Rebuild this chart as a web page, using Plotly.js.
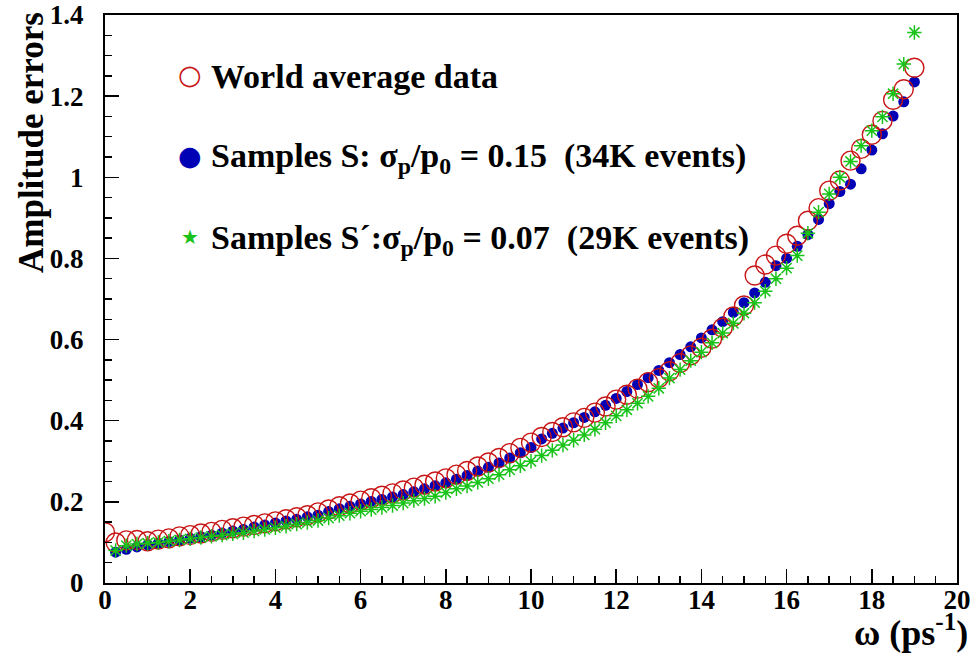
<!DOCTYPE html>
<html>
<head>
<meta charset="utf-8">
<script src="https://cdn.plot.ly/plotly-3.0.1.min.js"></script>
<style>html,body{margin:0;padding:0;background:#fff;}#chart{width:974px;height:653px;}</style>
</head>
<body>
<div id="chart"></div>
<script>
// omega (ps^-1) grid of World average data
const omegaWA = [0,0.25,0.5,0.75,1,1.25,1.5,1.75,2,2.25,2.5,2.75,3,3.25,3.5,3.75,4,4.25,4.5,4.75,5,5.25,5.5,5.75,6,6.25,6.5,6.75,7,7.25,7.5,7.75,8,8.25,8.5,8.75,9,9.25,9.5,9.75,10,10.25,10.5,10.75,11,11.25,11.5,11.75,12,12.25,12.5,12.75,13,13.25,13.5,13.75,14,14.25,14.5,14.75,15,15.25,15.5,15.75,16,16.25,16.5,16.75,17,17.25,17.5,17.75,18,18.25,18.5,18.75,19];
const errWA = [0.125,0.100,0.105,0.106,0.103,0.107,0.110,0.115,0.118,0.122,0.126,0.131,0.135,0.139,0.143,0.147,0.152,0.157,0.162,0.167,0.174,0.181,0.189,0.196,0.203,0.209,0.215,0.221,0.228,0.235,0.242,0.250,0.258,0.267,0.276,0.287,0.297,0.308,0.320,0.333,0.346,0.360,0.372,0.384,0.396,0.407,0.420,0.435,0.452,0.464,0.479,0.495,0.505,0.522,0.542,0.561,0.580,0.602,0.629,0.657,0.684,0.758,0.785,0.807,0.836,0.856,0.893,0.924,0.967,0.992,1.041,1.070,1.105,1.139,1.191,1.217,1.270];

// Samples S (sigma_p/p0 = 0.15)
const omegaS = [0.25,0.5,0.75,1,1.25,1.5,1.75,2,2.25,2.5,2.75,3,3.25,3.5,3.75,4,4.25,4.5,4.75,5,5.25,5.5,5.75,6,6.25,6.5,6.75,7,7.25,7.5,7.75,8,8.25,8.5,8.75,9,9.25,9.5,9.75,10,10.25,10.5,10.75,11,11.25,11.5,11.75,12,12.25,12.5,12.75,13,13.25,13.5,13.75,14,14.25,14.5,14.75,15,15.25,15.5,15.75,16,16.25,16.5,16.75,17,17.25,17.5,17.75,18,18.25,18.5,18.75,19];
const errS = [0.076,0.083,0.089,0.094,0.098,0.102,0.106,0.110,0.114,0.118,0.123,0.128,0.132,0.138,0.143,0.148,0.153,0.157,0.163,0.167,0.176,0.183,0.189,0.195,0.201,0.206,0.212,0.218,0.225,0.232,0.240,0.247,0.256,0.265,0.276,0.285,0.296,0.308,0.321,0.334,0.355,0.369,0.382,0.395,0.408,0.422,0.438,0.455,0.472,0.489,0.506,0.524,0.543,0.563,0.582,0.604,0.624,0.644,0.667,0.691,0.715,0.741,0.782,0.800,0.830,0.859,0.896,0.935,0.965,0.983,1.021,1.067,1.107,1.151,1.186,1.235];

// Samples S' (sigma_p/p0 = 0.07)
const omegaSp = [0.25,0.5,0.75,1,1.25,1.5,1.75,2,2.25,2.5,2.75,3,3.25,3.5,3.75,4,4.25,4.5,4.75,5,5.25,5.5,5.75,6,6.25,6.5,6.75,7,7.25,7.5,7.75,8,8.25,8.5,8.75,9,9.25,9.5,9.75,10,10.25,10.5,10.75,11,11.25,11.5,11.75,12,12.25,12.5,12.75,13,13.25,13.5,13.75,14,14.25,14.5,14.75,15,15.25,15.5,15.75,16,16.25,16.5,16.75,17,17.25,17.5,17.75,18,18.25,18.5,18.75,19];
const errSp = [0.080,0.092,0.096,0.098,0.100,0.103,0.106,0.109,0.112,0.115,0.118,0.121,0.124,0.128,0.132,0.136,0.140,0.145,0.149,0.154,0.160,0.166,0.172,0.177,0.181,0.186,0.191,0.197,0.203,0.208,0.214,0.223,0.232,0.239,0.248,0.257,0.267,0.279,0.289,0.300,0.314,0.327,0.340,0.352,0.365,0.379,0.395,0.412,0.427,0.443,0.460,0.480,0.505,0.526,0.548,0.569,0.592,0.616,0.640,0.665,0.691,0.719,0.750,0.776,0.807,0.862,0.914,0.959,1.000,1.039,1.078,1.115,1.149,1.206,1.279,1.357];

const legendLabels = [
  "World average data",
  "Samples S: \u03C3<sub>p</sub>/p<sub>0</sub> = 0.15 \u00A0(34K events)",
  "Samples S\u00B4:\u03C3<sub>p</sub>/p<sub>0</sub> = 0.07 \u00A0(29K events)"
];
const xTitle = "\u03C9 (ps<sup>-1</sup>)";
const yTitle = "Amplitude errors";

const RED = "#c81414", BLUE = "#0000b4", GREEN = "#19c319";
const serif = "Liberation Serif";

const traces = [
  {x: omegaS, y: errS, type: "scatter", mode: "markers", name: legendLabels[1],
   marker: {symbol: "circle", size: 11, color: BLUE, line: {width: 0}}},
  {x: omegaWA, y: errWA, type: "scatter", mode: "markers", name: legendLabels[0],
   marker: {symbol: "circle-open", size: 19, color: RED, line: {width: 1.4, color: RED}}},
  {x: omegaSp, y: errSp, type: "scatter", mode: "markers", name: legendLabels[2],
   marker: {symbol: "asterisk-open", size: 12, color: GREEN, line: {width: 1.5, color: GREEN}}}
];

function px(x){ return (x - 105) / 852; }
function py(y){ return (583 - y) / 568; }

const legendY = [77, 158, 240];
const legendSym = [
  {t: "\u25CB", c: RED, s: 27},
  {t: "\u25CF", c: BLUE, s: 27},
  {t: "\u2605", c: GREEN, s: 20}
];
const annotations = [];
for (let i = 0; i < 3; i++) {
  annotations.push({xref: "paper", yref: "paper", x: px(190), y: py(legendY[i] - 3), xanchor: "center", yanchor: "middle",
    text: legendSym[i].t, showarrow: false, font: {family: "DejaVu Sans", size: legendSym[i].s, color: legendSym[i].c}});
  annotations.push({xref: "paper", yref: "paper", x: px(209), y: py(legendY[i]), xanchor: "left", yanchor: "middle",
    text: "<b>" + legendLabels[i] + "</b>", showarrow: false, font: {family: serif, size: 34, color: "#000"}});
}
annotations.push({xref: "paper", yref: "paper", x: px(10), y: py(10), xanchor: "left", yanchor: "top", textangle: -90,
  text: "<b>" + yTitle + "</b>", showarrow: false, font: {family: serif, size: 35, color: "#000"}});
annotations.push({xref: "paper", yref: "paper", x: px(970), y: py(630), xanchor: "right", yanchor: "middle",
  text: "<b>" + xTitle + "</b>", showarrow: false, font: {family: serif, size: 36, color: "#000"}});

const axisCommon = {
  showgrid: false, zeroline: false, showline: true, linecolor: "#000", linewidth: 2, mirror: true,
  ticks: "inside", tickcolor: "#000", tickwidth: 1.5, ticklen: 14,
  tickfont: {family: serif, size: 27, color: "#000", weight: "bold"}
};

const layout = {
  width: 974, height: 653,
  margin: {l: 105, r: 17, t: 15, b: 70},
  paper_bgcolor: "#fff", plot_bgcolor: "#fff",
  showlegend: false,
  xaxis: Object.assign({}, axisCommon, {range: [0, 20], dtick: 2, tick0: 0, ticklabelstandoff: -8,
    minor: {dtick: 0.5, ticks: "inside", ticklen: 7, tickwidth: 1.5, tickcolor: "#000", showgrid: false}}),
  yaxis: Object.assign({}, axisCommon, {range: [0, 1.4], dtick: 0.2, tick0: 0, ticklabelstandoff: 14,
    minor: {dtick: 0.05, ticks: "inside", ticklen: 7, tickwidth: 1.5, tickcolor: "#000", showgrid: false}}),
  annotations: annotations
};

Plotly.newPlot("chart", traces, layout, {displayModeBar: false, staticPlot: true});
</script>
</body>
</html>
